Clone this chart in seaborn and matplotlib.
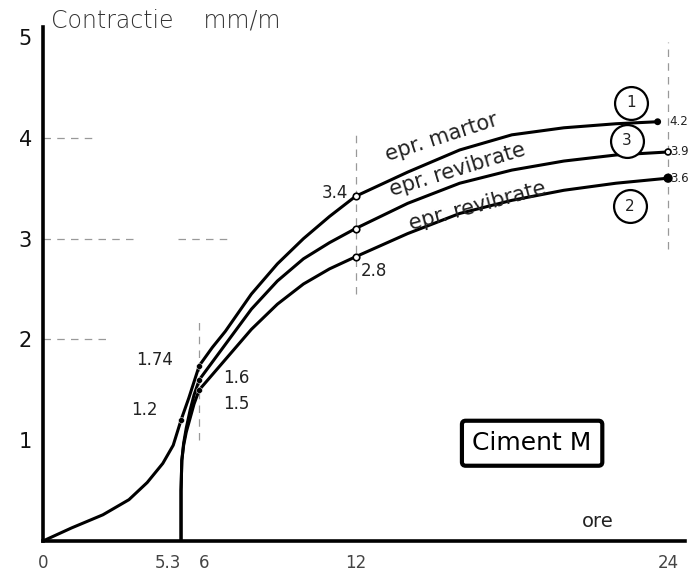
import numpy as np
import pandas as pd
import matplotlib
matplotlib.use("Agg")
import matplotlib.pyplot as plt
import seaborn as sns

# ---- data ----
hours_martor = [0, 1.1, 2.3, 3.3, 4, 4.6, 5, 5.3, 5.6, 5.8, 6, 6.5, 7, 8, 9, 10, 11, 12, 14, 16, 18, 20, 22, 23.6]
vals_martor = [0, 0.13, 0.26, 0.41, 0.58, 0.77, 0.95, 1.2, 1.42, 1.58, 1.74, 1.92, 2.08, 2.45, 2.75, 3.0, 3.22, 3.42, 3.66, 3.88, 4.03, 4.1, 4.14, 4.16]

hours_rev3 = [5.3, 5.3, 5.33, 5.4, 5.5, 5.65, 5.8, 6, 7, 8, 9, 10, 11, 12, 14, 16, 18, 20, 22, 24]
vals_rev3 = [0, 0.5, 0.8, 0.97, 1.12, 1.3, 1.45, 1.6, 1.95, 2.3, 2.58, 2.8, 2.96, 3.1, 3.35, 3.55, 3.68, 3.77, 3.83, 3.86]

hours_rev2 = [5.3, 5.3, 5.33, 5.4, 5.5, 5.65, 5.8, 6, 7, 8, 9, 10, 11, 12, 14, 16, 18, 20, 22, 24]
vals_rev2 = [0, 0.5, 0.8, 0.95, 1.08, 1.22, 1.36, 1.5, 1.8, 2.1, 2.35, 2.55, 2.7, 2.82, 3.05, 3.25, 3.38, 3.48, 3.55, 3.6]

series_names = ["epr. martor", "epr. revibrate 3", "epr. revibrate 2"]
x_ticks = [0, 5.3, 6, 12, 24]
x_ticklabels = ["0", "5.3", "6", "12", "24"]
y_ticks = [1, 2, 3, 4, 5]
y_ticklabels = ["1", "2", "3", "4", "5"]

mark_hours = [12, 12, 12]
mark_vals = [3.42, 3.1, 2.82]
end_hours = [23.6, 24, 24]
end_vals = [4.16, 3.86, 3.6]
end_labels = ["4.2", "3.9", "3.6"]

# ---- build table ----
df = pd.concat([
    pd.DataFrame({"ore": hours_martor, "contractie": vals_martor, "serie": series_names[0]}),
    pd.DataFrame({"ore": hours_rev3, "contractie": vals_rev3, "serie": series_names[1]}),
    pd.DataFrame({"ore": hours_rev2, "contractie": vals_rev2, "serie": series_names[2]}),
], ignore_index=True)

sns.set_theme(style="white")
plt.rcParams["font.family"] = ["DejaVu Sans"]

fig = plt.figure(figsize=(6.9, 5.73), dpi=100)
ax = fig.add_axes([43/690, 32/573, 642/690, 514/573])

# faint fragmentary grid
grid_kw = dict(color="#555555", lw=0.9, ls=(0, (6, 5)), alpha=0.6, zorder=1)
ax.hlines([2, 3, 4], 0, [2.4, 3.5, 2.0], **grid_kw)
ax.hlines([3], 5.2, 7.2, **grid_kw)
ax.vlines([6], 1.0, 2.2, **grid_kw)
ax.vlines([12], 2.45, 4.05, **grid_kw)
ax.vlines([24], 2.9, 4.95, **grid_kw)

sns.lineplot(data=df, x="ore", y="contractie", hue="serie", units="serie",
             estimator=None, sort=False, palette=["black"] * 3, linewidth=2.2,
             legend=False, ax=ax, zorder=3, solid_joinstyle="round")

sns.scatterplot(x=mark_hours, y=mark_vals, ax=ax, s=22, color="white",
                edgecolor="black", linewidth=1.2, zorder=4)
sns.scatterplot(x=end_hours, y=end_vals, ax=ax, s=[14, 18, 30],
                color=["black", "white", "black"], edgecolor="black",
                linewidth=1.2, zorder=4, legend=False)
sns.scatterplot(x=[6, 6, 6, 5.3], y=[1.74, 1.6, 1.5, 1.2], ax=ax, s=18,
                color="black", zorder=4)

ax.set_xlim(0, 24.65)
ax.set_ylim(0, 5.1)
ax.set_xticks(x_ticks)
ax.set_xticklabels(x_ticklabels, color="#444444", fontsize=12)
xl = ax.get_xticklabels()
xl[1].set_ha("right")
xl[2].set_ha("left")
ax.set_yticks(y_ticks)
ax.set_yticklabels(y_ticklabels, color="#111111", fontsize=15)
ax.tick_params(axis="both", direction="in", length=6, width=1.2, color="black")
ax.tick_params(axis="x", pad=9)
ax.tick_params(axis="y", pad=8)
ax.set_xlabel("")
ax.set_ylabel("")
for s in ["top", "right"]:
    ax.spines[s].set_visible(False)
for s in ["left", "bottom"]:
    ax.spines[s].set_linewidth(2.6)
    ax.spines[s].set_color("black")

txt = dict(color="#222222", clip_on=False)
ax.text(0.3, 5.1, "Contractie    mm/m", fontsize=17, ha="left", va="baseline",
        fontweight="light", color="#333333", clip_on=False)
ax.text(21.3, 0.19, "ore", fontsize=14, ha="center", va="center", **txt)

# curve labels
ax.text(15.3, 4.0, "epr. martor", rotation=18, fontsize=15, ha="center", va="center", **txt)
ax.text(15.9, 3.68, "epr. revibrate", rotation=17, fontsize=15, ha="center", va="center", **txt)
ax.text(16.7, 3.32, "epr. revibrate", rotation=15, fontsize=15, ha="center", va="center", **txt)

# value labels
ax.text(11.7, 3.45, "3.4", fontsize=12, ha="right", va="center", **txt)
ax.text(12.2, 2.68, "2.8", fontsize=12, ha="left", va="center", **txt)
ax.text(4.3, 1.8, "1.74", fontsize=12, ha="center", va="center", **txt)
ax.text(3.9, 1.3, "1.2", fontsize=12, ha="center", va="center", **txt)
ax.text(6.9, 1.62, "1.6", fontsize=12, ha="left", va="center", **txt)
ax.text(6.9, 1.36, "1.5", fontsize=12, ha="left", va="center", **txt)

# right-edge values, kept inside the figure
for hx, v, lab in zip(end_hours, end_vals, end_labels):
    ax.annotate(lab, xy=(hx, v), xycoords="data",
                xytext=(0.998, 0), textcoords=("figure fraction", "offset points"),
                fontsize=8.5, ha="right", va="center", color="#222222")

# numbered circles
circ_x = [22.58, 22.43, 22.54]
circ_y = [4.35, 3.97, 3.32]
circ_lab = ["1", "3", "2"]
sns.scatterplot(x=circ_x, y=circ_y, ax=ax, s=560, color="white",
                edgecolor="black", linewidth=1.6, zorder=5)
for cx, cy, cl in zip(circ_x, circ_y, circ_lab):
    ax.text(cx, cy, cl, fontsize=11, ha="center", va="center", zorder=6, color="#222222")

# Ciment M box
ax.text(18.78, 0.97, "Ciment M", fontsize=18, ha="center", va="center", color="black",
        bbox=dict(boxstyle="round,pad=0.42,rounding_size=0.15", fc="white", ec="black", lw=3))

fig.savefig("out.png", dpi=100)
